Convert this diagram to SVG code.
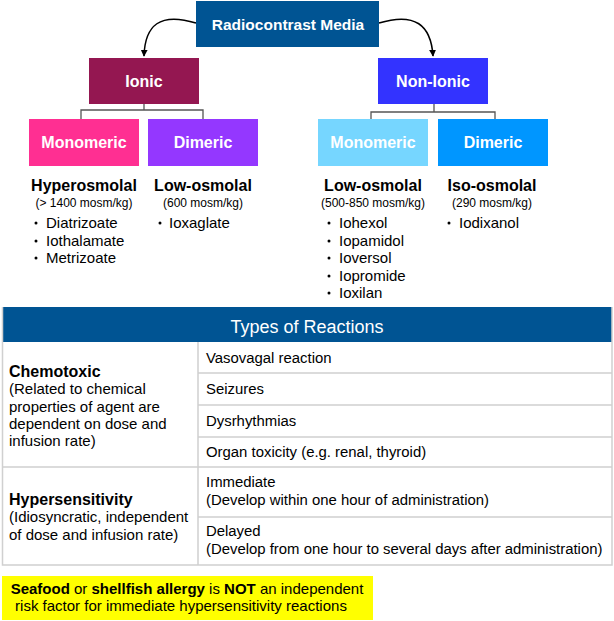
<svg xmlns="http://www.w3.org/2000/svg" width="614" height="621" viewBox="0 0 614 621">
<defs>
<marker id="ah" viewBox="0 0 10 10" refX="9" refY="5" markerWidth="7" markerHeight="7" orient="auto" markerUnits="userSpaceOnUse">
<path d="M0,0 L10,5 L0,10 z" fill="#000"/>
</marker>
<style>
text{font-family:"Liberation Sans",Arial,Helvetica,sans-serif;fill:#000}
.bl{font-weight:bold;font-size:16px;fill:#fff;text-anchor:middle}
.sh{font-weight:bold;font-size:16px;text-anchor:middle}
.sm{font-size:12px;text-anchor:middle}
.it{font-size:15px}
.tc{font-size:14.9px}
.lc{font-size:15px}
.b{font-weight:bold}
.br{stroke:#555;stroke-width:1.3;fill:none}
.cv{stroke:#000;stroke-width:1.5;fill:none}
.grid{stroke:#d0d0d0;stroke-width:1.5;fill:none}
</style>
</defs>
<rect width="614" height="621" fill="#fff"/>

<g id="connectors">
<path class="cv" d="M196,23 C160,12 145,25 144,56" marker-end="url(#ah)"/>
<path class="cv" d="M379,23 C415,12 431,25 433,56" marker-end="url(#ah)"/>
<path class="br" d="M144,104 V110 M81,119 V110 H203 V119"/>
<path class="br" d="M434,104 V112 M371,119 V112 H495 V119"/>
</g>

<g id="radiocontrast">
<rect x="196" y="1" width="183" height="46" fill="#005493"/>
<text class="bl" x="288" y="30" style="font-size:15.5px">Radiocontrast Media</text>
</g>
<g id="ionic">
<rect x="89" y="58" width="110" height="46" fill="#941751"/>
<text class="bl" x="144" y="87">Ionic</text>
</g>
<g id="nonionic">
<rect x="378" y="58" width="110" height="46" fill="#3333FF"/>
<text class="bl" x="433" y="87">Non-Ionic</text>
</g>
<g id="ionic-monomeric">
<rect x="29" y="119" width="110" height="47" fill="#FF2F92"/>
<text class="bl" x="84" y="148">Monomeric</text>
</g>
<g id="ionic-dimeric">
<rect x="148" y="119" width="110" height="47" fill="#9437FF"/>
<text class="bl" x="203" y="148">Dimeric</text>
</g>
<g id="nonionic-monomeric">
<rect x="318" y="119" width="110" height="47" fill="#76D6FF"/>
<text class="bl" x="373" y="148">Monomeric</text>
</g>
<g id="nonionic-dimeric">
<rect x="438" y="119" width="110" height="47" fill="#0096FF"/>
<text class="bl" x="493" y="148">Dimeric</text>
</g>

<g id="hyperosmolal">
<text class="sh" x="84" y="191">Hyperosmolal</text>
<text class="sm" x="84" y="207">(&gt; 1400 mosm/kg)</text>
<circle cx="36" cy="223" r="1.5"/><text class="it" x="46" y="228">Diatrizoate</text>
<circle cx="36" cy="241" r="1.5"/><text class="it" x="46" y="246">Iothalamate</text>
<circle cx="36" cy="258" r="1.5"/><text class="it" x="46" y="263">Metrizoate</text>
</g>
<g id="ionic-lowosmolal">
<text class="sh" x="203" y="191">Low-osmolal</text>
<text class="sm" x="203" y="207">(600 mosm/kg)</text>
<circle cx="160" cy="223" r="1.5"/><text class="it" x="169" y="228">Ioxaglate</text>
</g>
<g id="nonionic-lowosmolal">
<text class="sh" x="373" y="191">Low-osmolal</text>
<text class="sm" x="373" y="207">(500-850 mosm/kg)</text>
<circle cx="329" cy="223" r="1.5"/><text class="it" x="339" y="228">Iohexol</text>
<circle cx="329" cy="241" r="1.5"/><text class="it" x="339" y="246">Iopamidol</text>
<circle cx="329" cy="258" r="1.5"/><text class="it" x="339" y="263">Ioversol</text>
<circle cx="329" cy="276" r="1.5"/><text class="it" x="339" y="281">Iopromide</text>
<circle cx="329" cy="293" r="1.5"/><text class="it" x="339" y="298">Ioxilan</text>
</g>
<g id="isoosmolal">
<text class="sh" x="492" y="191">Iso-osmolal</text>
<text class="sm" x="492" y="207">(290 mosm/kg)</text>
<circle cx="449" cy="223" r="1.5"/><text class="it" x="459" y="228">Iodixanol</text>
</g>

<g id="reactions-table">
<rect x="2.5" y="307" width="609.5" height="35" fill="#005493"/>
<text x="307" y="333" style="font-size:18px;fill:#fff;text-anchor:middle">Types of Reactions</text>
<path class="grid" d="M2.5,307 V565 H612 V307 M2.5,467 H612 M198,342 V565 M198,373 H612 M198,405 H612 M198,437 H612 M198,517 H612"/>
<text class="lc b" x="9" y="377" style="font-size:16px">Chemotoxic</text>
<text class="lc" x="9" y="394">(Related to chemical</text>
<text class="lc" x="9" y="412">properties of agent are</text>
<text class="lc" x="9" y="429">dependent on dose and</text>
<text class="lc" x="9" y="446">infusion rate)</text>
<text class="tc" x="206" y="363">Vasovagal reaction</text>
<text class="tc" x="206" y="394">Seizures</text>
<text class="tc" x="206" y="426">Dysrhythmias</text>
<text class="tc" x="206" y="457">Organ toxicity (e.g. renal, thyroid)</text>
<text class="lc b" x="9" y="505" style="font-size:16px">Hypersensitivity</text>
<text class="lc" x="9" y="522">(Idiosyncratic, independent</text>
<text class="lc" x="9" y="540">of dose and infusion rate)</text>
<text class="tc" x="206" y="487">Immediate</text>
<text class="tc" x="206" y="505">(Develop within one hour of administration)</text>
<text class="tc" x="206" y="536">Delayed</text>
<text class="tc" x="206" y="554">(Develop from one hour to several days after administration)</text>
</g>

<g id="note">
<rect x="2" y="576" width="371" height="44" fill="#FFFF00"/>
<text x="187" y="594" style="font-size:15px;text-anchor:middle"><tspan font-weight="bold">Seafood</tspan> or <tspan font-weight="bold">shellfish allergy</tspan> is <tspan font-weight="bold">NOT</tspan> an independent</text>
<text x="181" y="611" style="font-size:15px;text-anchor:middle">risk factor for immediate hypersensitivity reactions</text>
</g>
</svg>
